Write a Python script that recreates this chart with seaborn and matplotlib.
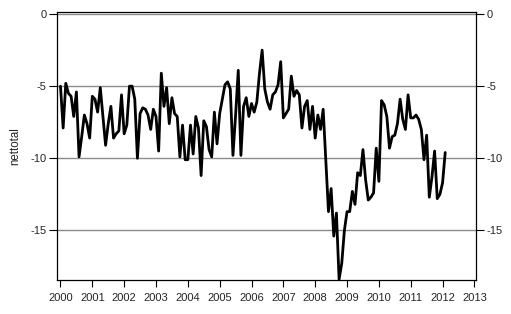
import numpy as np
import pandas as pd
import matplotlib
matplotlib.use("Agg")
import matplotlib.pyplot as plt
import seaborn as sns

# monthly values, Jan 2000 - Feb 2012
values_2000 = [-5.0, -7.9, -4.8, -5.5, -5.7, -7.1, -5.4, -9.9, -8.5, -7.0, -7.6, -8.6]
values_2001 = [-5.7, -5.9, -6.8, -5.1, -7.1, -9.1, -7.6, -6.4, -8.6, -8.3, -8.1, -5.6]
values_2002 = [-8.3, -7.7, -5.0, -5.0, -5.9, -10.0, -6.9, -6.5, -6.6, -7.0, -8.0, -6.6]
values_2003 = [-7.1, -9.5, -4.1, -6.4, -5.1, -7.6, -5.8, -6.9, -7.1, -9.9, -7.7, -10.1]
values_2004 = [-10.1, -7.7, -9.7, -7.1, -7.9, -11.2, -7.4, -7.8, -9.4, -9.9, -6.8, -9.0]
values_2005 = [-6.9, -5.9, -4.9, -4.7, -5.2, -9.8, -7.0, -3.9, -9.8, -6.4, -5.8, -7.1]
values_2006 = [-6.2, -6.8, -6.1, -4.1, -2.5, -5.2, -6.1, -6.6, -5.6, -5.4, -4.9, -3.3]
values_2007 = [-7.2, -6.9, -6.6, -4.3, -5.7, -5.3, -5.6, -7.9, -6.4, -6.0, -8.0, -6.4]
values_2008 = [-8.6, -7.0, -8.0, -6.6, -10.2, -13.7, -12.1, -15.4, -13.8, -18.4, -17.3, -15.0]
values_2009 = [-13.7, -13.7, -12.3, -13.2, -11.0, -11.2, -9.4, -11.5, -12.9, -12.7, -12.4, -9.3]
values_2010 = [-11.6, -6.0, -6.3, -7.1, -9.3, -8.5, -8.4, -7.6, -5.9, -7.3, -8.0, -5.6]
values_2011 = [-7.2, -7.2, -7.0, -7.3, -8.0, -10.1, -8.4, -12.7, -11.3, -9.5, -12.8, -12.5]
values_2012 = [-11.7, -9.6]

nettotal = (values_2000 + values_2001 + values_2002 + values_2003 + values_2004
            + values_2005 + values_2006 + values_2007 + values_2008 + values_2009
            + values_2010 + values_2011 + values_2012)

months = pd.date_range("2000-01-01", periods=len(nettotal), freq="MS")
year_ticks = list(range(2000, 2014))
y_ticks = [0, -5, -10, -15]

df = pd.DataFrame({
    "time": months.year + (months.month - 1) / 12,
    "nettotal": nettotal,
})

sns.set_theme(style="white")
plt.rcParams["font.family"] = ["Liberation Sans", "DejaVu Sans"]
plt.rcParams["axes.unicode_minus"] = False

fig = plt.figure(figsize=(5.11, 3.14), dpi=100)
ax = fig.add_axes([0.1115, 0.108, 0.82, 0.854])

for y in y_ticks:
    ax.axhline(y, color="#8c8c8c", linewidth=1.0, zorder=1)

sns.lineplot(data=df, x="time", y="nettotal", color="black", linewidth=2.0, ax=ax, zorder=3)

ax.set_xlim(1999.89, 2013.05)
ax.set_ylim(-18.45, 0.15)
ax.set_xticks(year_ticks)
ax.set_xticklabels([str(y) for y in year_ticks])
ax.set_yticks(y_ticks)
ax.set_yticklabels([str(y) for y in y_ticks])
ax.set_xlabel("")
ax.set_ylabel("nettotal", fontsize=8.3)
ax.yaxis.set_label_coords(-0.086, 0.5)

ax.tick_params(axis="x", direction="out", length=5, width=0.8, color="black",
               labelsize=8, pad=4.5, bottom=True)
ax.tick_params(axis="y", which="both", direction="out", length=6, width=0.8,
               color="black", labelsize=8, pad=1.5, left=True, right=True,
               labelright=True)

for side in ["left", "right", "top", "bottom"]:
    ax.spines[side].set_visible(True)
    ax.spines[side].set_color("black")
    ax.spines[side].set_linewidth(0.9)

fig.savefig("out.png", dpi=100)
